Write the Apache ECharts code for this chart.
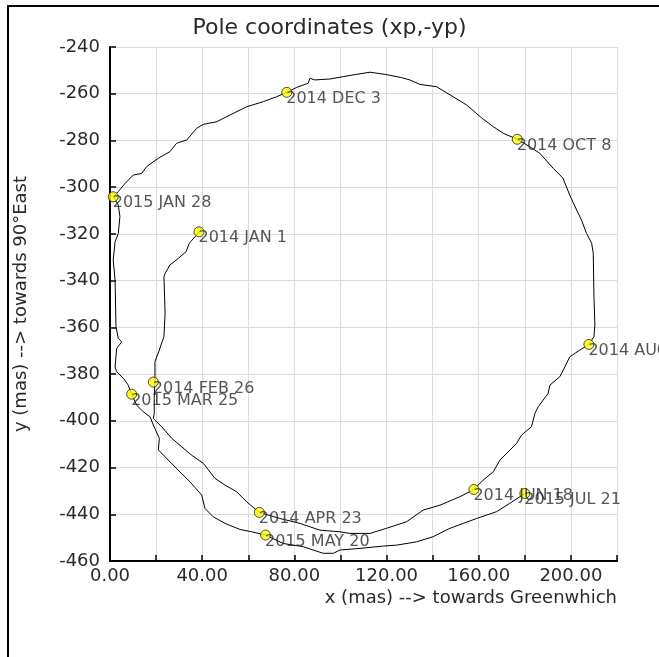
<!DOCTYPE html>
<html>
<head>
<meta charset="utf-8">
<script src="https://cdn.jsdelivr.net/npm/echarts@6/dist/echarts.min.js"></script>
<style>
html,body{margin:0;padding:0;background:#fff;}
#chart{width:659px;height:657px;}
</style>
</head>
<body>
<div id="chart"></div>
<script>
// Pole path (x in mas, y = -yp in mas), in time order from 2014 JAN 1 to 2015 JUL 21
const pathX = [
38.6,36.9,34.4,33.0,29.6,26.0,23.9,23.4,23.6,23.9,23.4,21.4,19.5,19.5,18.8,
19.2,19.2,18.8,22.4,26.8,31.1,35.4,40.5,45.5,49.9,55.0,59.3,64.8,
73.7,82.4,91.1,99.8,104.1,112.8,120.0,128.7,135.9,143.2,151.8,157.9,
161.9,166.3,169.2,176.4,178.6,182.9,184.4,185.8,190.1,190.9,195.2,197.4,199.5,203.9,207.8,
210.0,210.4,210.0,209.7,209.0,206.8,204.6,202.5,199.5,196.6,192.3,186.5,182.2,176.7,170.6,166.3,161.2,154.7,148.9,141.7,134.5,130.1,126.5,119.3,112.8,107.0,101.2,95.4,88.9,86.8,86.0,81.0,76.7,72.3,66.5,59.3,53.5,46.3,40.5,37.6,33.3,28.9,26.0,21.0,15.9,13.8,10.1,6.5,3.6,1.4,
3.6,4.3,3.6,2.2,1.4,2.2,2.6,3.6,5.1,2.9,2.2,2.9,5.8,7.9,9.4,11.6,14.4,17.4,18.8,21.4,21.0,24.6,29.6,34.7,39.8,41.2,44.8,49.9,56.4,61.5,67.5,75.2,83.9,92.5,96.9,99.8,108.5,118.6,124.4,133.0,140.2,147.5,153.3,159.1,167.7,173.5,180.0
];
const pathY = [
-319.1,-321.2,-324.0,-327.6,-330.5,-333.3,-336.9,-338.3,-344.0,-354.0,-364.0,-369.7,-374.7,-382.6,-383.4,
-390.0,-396.7,-399.0,-402.5,-407.5,-411.1,-414.7,-418.2,-424.6,-427.5,-430.4,-434.7,-439.2,
-441.8,-443.9,-446.8,-447.5,-448.2,-448.2,-446.0,-443.2,-438.2,-436.1,-432.5,-429.4,
-425.4,-421.8,-416.8,-409.7,-406.1,-402.5,-396.8,-394.0,-388.3,-384.7,-381.1,-376.9,-372.6,-369.7,-367.3,
-364.0,-359.0,-346.9,-328.3,-324.0,-319.8,-314.1,-309.8,-303.4,-296.2,-291.9,-285.5,-282.7,-279.5,-276.9,-274.1,-270.3,-264.8,-261.3,-257.0,-256.0,-254.1,-253.1,-251.7,-250.8,-251.7,-252.7,-253.7,-254.1,-253.4,-255.5,-257.3,-259.4,-261.3,-263.4,-265.6,-268.4,-272.0,-273.1,-274.8,-279.8,-281.2,-284.8,-287.6,-291.2,-294.1,-294.8,-298.4,-301.9,-304.1,
-307.6,-312.6,-319.8,-323.4,-331.2,-339.7,-359.7,-364.7,-366.2,-369.0,-376.9,-379.0,-381.8,-384.7,-388.6,-393.3,-396.1,-398.3,-401.8,-407.5,-412.5,-416.1,-421.1,-426.1,-431.8,-437.5,-441.1,-443.9,-446.5,-447.5,-448.9,-452.5,-453.9,-456.7,-456.7,-455.3,-454.6,-453.6,-453.2,-451.8,-449.6,-446.0,-443.9,-441.8,-438.9,-435.3,-431.1
];
// Labelled dates
const markLabels = ['2014 JAN 1','2014 FEB 26','2014 APR 23','2014 JUN 18','2014 AUG 13','2014 OCT 8','2014 DEC 3','2015 JAN 28','2015 MAR 25','2015 MAY 20','2015 JUL 21'];
const markX = [38.6,18.8,64.8,157.9,207.8,176.7,76.7,1.4,9.4,67.5,180.0];
const markY = [-319.1,-383.4,-439.2,-429.4,-367.3,-279.5,-259.4,-304.1,-388.6,-448.9,-431.1];

// Axis tick labels
const xTickLabels = ['0.00','40.00','80.00','120.00','160.00','200.00'];
const xTickValues = [0,40,80,120,160,200];

const titleText = 'Pole coordinates (xp,-yp)';
const xName = 'x (mas) --> towards Greenwhich';
const yName = 'y (mas) --> towards 90°East';

const FONT = 'DejaVu Sans';
const TXT = '#2a2a2a';
const chart = echarts.init(document.getElementById('chart'), null, {renderer:'canvas'});
const pathData = pathX.map((x,i)=>[x, pathY[i]]);
const markData = markX.map((x,i)=>({value:[x, markY[i]], name: markLabels[i]}));

chart.setOption({
  animation:false,
  backgroundColor:'#ffffff',
  graphic:[{
    type:'rect', shape:{x:8,y:6,width:800,height:800},
    style:{fill:'none', stroke:'#000', lineWidth:2}, silent:true, z:-10
  }],
  title:{
    text:titleText, left:'center', top:12,
    textStyle:{fontFamily:FONT, fontSize:22, fontWeight:'normal', color:TXT}
  },
  grid:{left:110, top:47, width:507, height:514, containLabel:false},
  xAxis:{
    type:'value', min:0, max:220, interval:20,
    name:xName, nameLocation:'end', nameGap:0,
    nameTextStyle:{fontFamily:FONT, fontSize:18, color:TXT, align:'right', verticalAlign:'top', padding:[28,0,0,0]},
    axisLine:{show:true, onZero:false, lineStyle:{color:'#000', width:2}},
    axisTick:{show:true, inside:true, length:6, lineStyle:{color:'#000', width:1.5}},
    axisLabel:{fontFamily:FONT, fontSize:18, color:TXT, margin:6,
      formatter:(v)=>{const k = xTickValues.indexOf(v); return k >= 0 ? xTickLabels[k] : '';}},
    splitLine:{show:true, lineStyle:{color:'#dcdcdc', width:1}}
  },
  yAxis:{
    type:'value', min:-460, max:-240, interval:20,
    name:yName, nameLocation:'middle', nameGap:80, nameRotate:90,
    nameTextStyle:{fontFamily:FONT, fontSize:18, color:TXT},
    axisLine:{show:true, onZero:false, lineStyle:{color:'#000', width:2}},
    axisTick:{show:true, inside:true, length:6, lineStyle:{color:'#000', width:1.5}},
    axisLabel:{fontFamily:FONT, fontSize:18, color:TXT, margin:10},
    splitLine:{show:true, lineStyle:{color:'#dcdcdc', width:1}}
  },
  series:[
    {type:'line', data:pathData, showSymbol:false, symbol:'none', smooth:false,
     lineStyle:{color:'#000', width:1}, silent:true, z:2},
    {type:'scatter', data:markData, symbol:'circle', symbolSize:10,
     itemStyle:{color:'#ffff00', borderColor:'#222', borderWidth:1}, z:3,
     label:{show:true, formatter:(p)=>p.name, position:[5,4], align:'left', verticalAlign:'top',
       fontFamily:FONT, fontSize:16, color:TXT}}
  ]
});
</script>
</body>
</html>
